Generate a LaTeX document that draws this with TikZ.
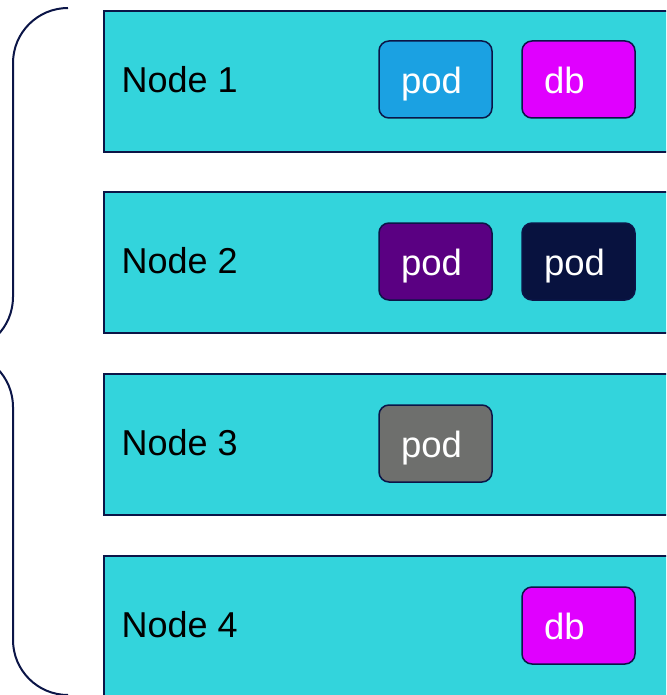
\documentclass[tikz,border=0pt]{standalone}
\usepackage{fontspec}
\setmainfont{Liberation Sans}
\definecolor{navy}{HTML}{0B1547}
\definecolor{nodecyan}{HTML}{33D4DC}
\definecolor{podblue}{HTML}{1BA1E2}
\definecolor{podmagenta}{HTML}{E000FF}
\definecolor{podpurple}{HTML}{5A0082}
\definecolor{poddark}{HTML}{08123F}
\definecolor{podgray}{HTML}{6E6F6D}
\tikzset{
  nodebox/.style={draw=navy, line width=2pt, fill=nodecyan, rectangle,
    minimum width=600pt, minimum height=141pt, anchor=north west, inner sep=0pt},
  nodelabel/.style={anchor=base west, inner sep=0pt, text=black,
    font=\fontsize{36}{43}\selectfont},
  podbox/.style={draw=navy, line width=1.5pt, rectangle, rounded corners=10pt,
    minimum width=113pt, minimum height=77pt, text width=69pt, align=left,
    inner xsep=0pt, inner ysep=0pt, text height=28pt, text depth=0pt,
    text=white, font=\fontsize{36.5}{43}\selectfont},
  brace/.style={draw=navy, line width=2pt}
}
\begin{document}
\begin{tikzpicture}[x=1pt,y=-1pt]
  \useasboundingbox (0,0) rectangle (666,695);
  \clip (0,0) rectangle (666,695);

  % cluster nodes
  \node[nodebox] (n1) at (103,10)  {};
  \node[nodebox] (n2) at (103,191) {};
  \node[nodebox] (n3) at (103,373) {};
  \node[nodebox] (n4) at (103,555) {};

  \node[nodelabel] (l1) at (121.5,92.5)  {Node 1};
  \node[nodelabel] (l2) at (121.5,273.5) {Node 2};
  \node[nodelabel] (l3) at (121.5,455.5) {Node 3};
  \node[nodelabel] (l4) at (121.5,637.5) {Node 4};

  % workloads
  \node[podbox, fill=podblue]    (p1) at (435.5,79.5)  {pod};
  \node[podbox, fill=podmagenta] (d1) at (578.5,79.5)  {db};
  \node[podbox, fill=podpurple]  (p2) at (435.5,261.5) {pod};
  \node[podbox, fill=poddark]    (p3) at (578.5,261.5) {pod};
  \node[podbox, fill=podgray]    (p4) at (435.5,443.5) {pod};
  \node[podbox, fill=podmagenta] (d2) at (578.5,625.5) {db};

  % grouping brace
  \coordinate (bt) at (68,8);
  \draw[brace] (bt)
    arc[start angle=90, end angle=180, radius=55pt]
    -- (13,297)
    arc[start angle=0, end angle=-90, radius=55pt]
    arc[start angle=90, end angle=0, radius=55pt]
    -- (13,640)
    arc[start angle=180, end angle=270, radius=55pt];
\end{tikzpicture}
\end{document}
